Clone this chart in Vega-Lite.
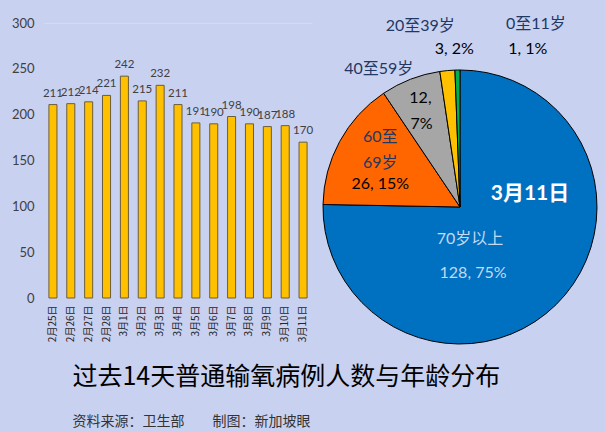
{
  "$schema": "https://vega.github.io/schema/vega-lite/v6.json",
  "background": "#c9d1f0",
  "padding": {"left": 11, "top": 16, "right": 5, "bottom": 5},
  "config": {"view": {"stroke": null}, "font": "Lato, Noto Sans CJK SC"},
  "title": {
    "text": "过去14天普通输氧病例人数与年龄分布",
    "subtitle": "资料来源：卫生部　　制图：新加坡眼",
    "orient": "bottom",
    "anchor": "start",
    "frame": "bounds",
    "dx": 61,
    "offset": 17,
    "font": "Noto Sans CJK SC",
    "fontSize": 25,
    "fontWeight": "normal",
    "color": "#000000",
    "subtitleFont": "Noto Sans CJK SC",
    "subtitleFontSize": 14,
    "subtitleColor": "#333333",
    "subtitlePadding": 25
  },
  "hconcat": [
    {
      "width": 268,
      "height": 275,
      "data": {"values": [
        {"date": "2月25日", "count": 211},
        {"date": "2月26日", "count": 212},
        {"date": "2月27日", "count": 214},
        {"date": "2月28日", "count": 221},
        {"date": "3月1日", "count": 242},
        {"date": "3月2日", "count": 215},
        {"date": "3月3日", "count": 232},
        {"date": "3月4日", "count": 211},
        {"date": "3月5日", "count": 191},
        {"date": "3月6日", "count": 190},
        {"date": "3月7日", "count": 198},
        {"date": "3月8日", "count": 190},
        {"date": "3月9日", "count": 187},
        {"date": "3月10日", "count": 188},
        {"date": "3月11日", "count": 170}
      ]},
      "encoding": {
        "x": {
          "field": "date", "type": "ordinal", "sort": null,
          "scale": {"paddingInner": 0.55, "paddingOuter": 0.275},
          "axis": {"title": null, "labelAngle": -90, "labelFontSize": 10, "labelColor": "#262626",
                   "labelFont": "Noto Sans CJK SC", "ticks": false, "domain": false, "labelPadding": 7}
        },
        "y": {
          "field": "count", "type": "quantitative",
          "scale": {"domain": [0, 300]},
          "axis": {"title": null, "values": [0, 50, 100, 150, 200, 250, 300], "labelFontSize": 13,
                   "labelColor": "#404040", "ticks": false, "domain": false, "labelPadding": 10,
                   "gridColor": {"condition": {"test": "datum.value === 300", "value": "#e3d9cf"}, "value": "transparent"}}
        }
      },
      "layer": [
        {"mark": {"type": "bar", "color": "#FFC000", "stroke": "#6b5d3a", "strokeWidth": 1}},
        {"mark": {"type": "text", "dy": -11, "fontSize": 11.5, "color": "#404040"},
         "encoding": {"text": {"field": "count", "type": "quantitative"}}}
      ]
    },
    {
      "width": 274,
      "height": 274,
      "data": {"values": [
        {"age": "70岁以上", "count": 128},
        {"age": "60至69岁", "count": 26},
        {"age": "40至59岁", "count": 12},
        {"age": "20至39岁", "count": 3},
        {"age": "0至11岁", "count": 1}
      ]},
      "encoding": {
        "theta": {"field": "count", "type": "quantitative", "stack": true},
        "order": {"field": "count", "type": "quantitative", "sort": "descending"},
        "detail": {"field": "age", "type": "nominal"}
      },
      "layer": [
        {"mark": {"type": "arc", "outerRadius": 137, "stroke": "#000000", "strokeWidth": 1, "yOffset": 47},
         "encoding": {"color": {"field": "age", "type": "nominal", "legend": null,
           "scale": {"domain": ["70岁以上", "60至69岁", "40至59岁", "20至39岁", "0至11岁"],
                     "range": ["#0070C0", "#FF6600", "#A6A6A6", "#FFC000", "#00B050"]}}}},
        {"mark": {"type": "text", "radius": 50, "yOffset": 47, "dx": 35, "dy": -49, "fontSize": 21, "fontWeight": "bold", "color": "#ffffff"},
         "encoding": {"text": {"condition": {"test": "datum.age === '70岁以上'", "value": "3月11日"}, "value": ""}}},
        {"mark": {"type": "text", "radius": 50, "yOffset": 47, "dx": -25, "dy": -4, "fontSize": 16, "color": "#c5d9f1"},
         "encoding": {"text": {"condition": {"test": "datum.age === '70岁以上'", "value": "70岁以上"}, "value": ""}}},
        {"mark": {"type": "text", "radius": 50, "yOffset": 47, "dx": -22, "dy": 30, "fontSize": 16, "color": "#c5d9f1"},
         "encoding": {"text": {"condition": {"test": "datum.age === '70岁以上'", "value": "128, 75%"}, "value": ""}}},
        {"mark": {"type": "text", "radius": 92, "yOffset": 47, "dx": 1, "dy": -26, "fontSize": 16, "color": "#1f3864"},
         "encoding": {"text": {"condition": {"test": "datum.age === '60至69岁'", "value": "60至"}, "value": ""}}},
        {"mark": {"type": "text", "radius": 92, "yOffset": 47, "dx": 1, "dy": 0, "fontSize": 16, "color": "#1f3864"},
         "encoding": {"text": {"condition": {"test": "datum.age === '60至69岁'", "value": "69岁"}, "value": ""}}},
        {"mark": {"type": "text", "radius": 92, "yOffset": 47, "dx": 1, "dy": 21, "fontSize": 16, "color": "#000000"},
         "encoding": {"text": {"condition": {"test": "datum.age === '60至69岁'", "value": "26, 15%"}, "value": ""}}},
        {"mark": {"type": "text", "radius": 104, "yOffset": 47, "dx": -2, "dy": -12, "fontSize": 16, "color": "#000000"},
         "encoding": {"text": {"condition": {"test": "datum.age === '40至59岁'", "value": "12,"}, "value": ""}}},
        {"mark": {"type": "text", "radius": 104, "yOffset": 47, "dx": -1, "dy": 14, "fontSize": 16, "color": "#000000"},
         "encoding": {"text": {"condition": {"test": "datum.age === '40至59岁'", "value": "7%"}, "value": ""}}},
        {"mark": {"type": "text", "radius": 150, "yOffset": 47, "dx": -27, "dy": 2, "fontSize": 16, "color": "#1f3864"},
         "encoding": {"text": {"condition": {"test": "datum.age === '40至59岁'", "value": "40至59岁"}, "value": ""}}},
        {"mark": {"type": "text", "radius": 170, "yOffset": 47, "dx": -24, "dy": -12, "fontSize": 16, "color": "#1f3864"},
         "encoding": {"text": {"condition": {"test": "datum.age === '20至39岁'", "value": "20至39岁"}, "value": ""}}},
        {"mark": {"type": "text", "radius": 170, "yOffset": 47, "dx": 10, "dy": 11, "fontSize": 16, "color": "#000000"},
         "encoding": {"text": {"condition": {"test": "datum.age === '20至39岁'", "value": "3, 2%"}, "value": ""}}},
        {"mark": {"type": "text", "radius": 170, "yOffset": 47, "dx": 79, "dy": -13, "fontSize": 16, "color": "#1f3864"},
         "encoding": {"text": {"condition": {"test": "datum.age === '0至11岁'", "value": "0至11岁"}, "value": ""}}},
        {"mark": {"type": "text", "radius": 170, "yOffset": 47, "dx": 71, "dy": 12, "fontSize": 16, "color": "#000000"},
         "encoding": {"text": {"condition": {"test": "datum.age === '0至11岁'", "value": "1, 1%"}, "value": ""}}}
      ]
    }
  ],
  "bounds": "flush",
  "spacing": 11
}
